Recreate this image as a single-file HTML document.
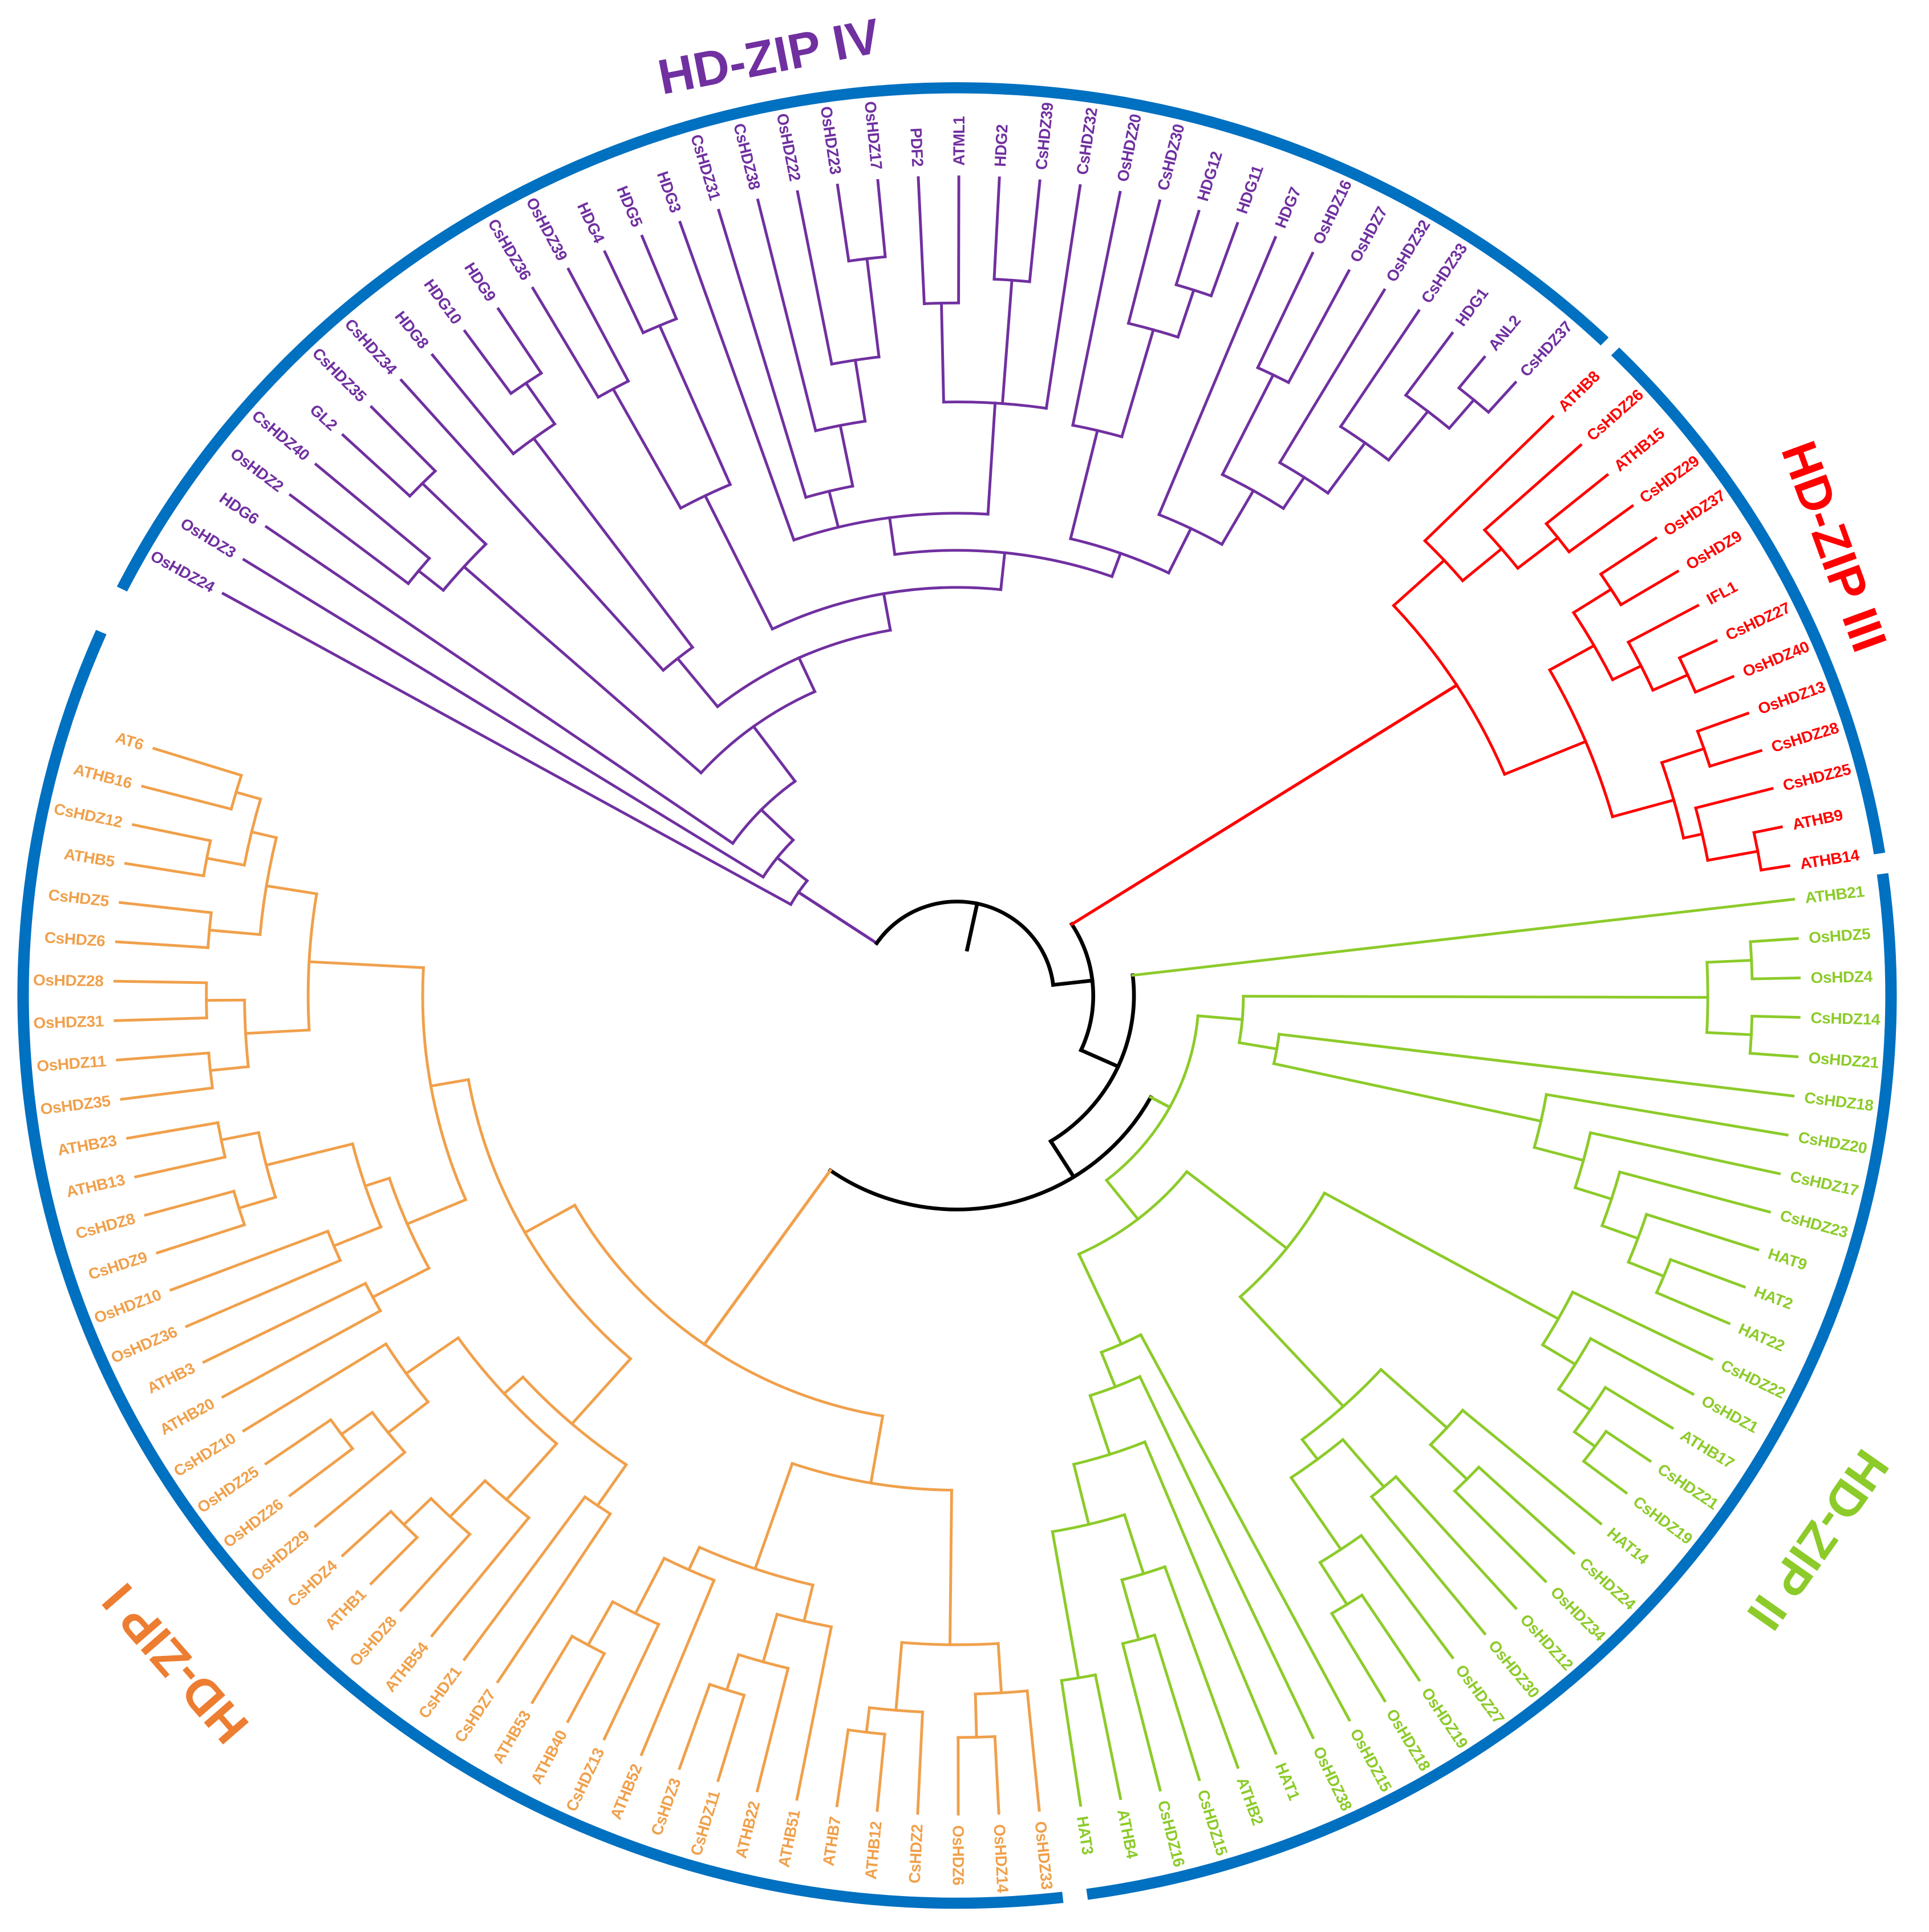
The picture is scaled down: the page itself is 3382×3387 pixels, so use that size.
<!DOCTYPE html>
<html><head><meta charset="utf-8"><style>
html,body{margin:0;padding:0;background:#fff;}
svg{display:block;}
text{font-family:"Liberation Sans",Arial,sans-serif;font-weight:bold;}
.lb text{font-size:12.6px;dominant-baseline:central;letter-spacing:-0.2px;}
.p{fill:#7030A0}.r{fill:#FF0000}.g{fill:#8CCB2A}.o{fill:#F0A04B}
</style></head><body>
<svg id="s" width="3382" height="3387" viewBox="0 0 1560 1562.3" preserveAspectRatio="none" xmlns="http://www.w3.org/2000/svg">
<rect width="1560" height="1563" fill="#fff"/>
<g id="T" transform="translate(774,805) scale(1.029,1)">
<g id="ring" fill="none" stroke="#0070C0" stroke-width="9"></g>
<g id="br" fill="none" stroke-linecap="square"></g>
<g class="lb" id="L">
<text class="p">OsHDZ24</text><text class="p">OsHDZ3</text><text class="p">HDG6</text><text class="p">OsHDZ2</text><text class="p">CsHDZ40</text><text class="p">GL2</text><text class="p">CsHDZ35</text><text class="p">CsHDZ34</text><text class="p">HDG8</text><text class="p">HDG10</text><text class="p">HDG9</text><text class="p">CsHDZ36</text><text class="p">OsHDZ39</text><text class="p">HDG4</text><text class="p">HDG5</text><text class="p">HDG3</text><text class="p">CsHDZ31</text><text class="p">CsHDZ38</text><text class="p">OsHDZ22</text><text class="p">OsHDZ23</text><text class="p">OsHDZ17</text><text class="p">PDF2</text><text class="p">ATML1</text><text class="p">HDG2</text><text class="p">CsHDZ39</text><text class="p">CsHDZ32</text><text class="p">OsHDZ20</text><text class="p">CsHDZ30</text><text class="p">HDG12</text><text class="p">HDG11</text><text class="p">HDG7</text><text class="p">OsHDZ16</text><text class="p">OsHDZ7</text><text class="p">OsHDZ32</text><text class="p">CsHDZ33</text><text class="p">HDG1</text><text class="p">ANL2</text><text class="p">CsHDZ37</text>
<text class="r">ATHB8</text><text class="r">CsHDZ26</text><text class="r">ATHB15</text><text class="r">CsHDZ29</text><text class="r">OsHDZ37</text><text class="r">OsHDZ9</text><text class="r">IFL1</text><text class="r">CsHDZ27</text><text class="r">OsHDZ40</text><text class="r">OsHDZ13</text><text class="r">CsHDZ28</text><text class="r">CsHDZ25</text><text class="r">ATHB9</text><text class="r">ATHB14</text>
<text class="g">ATHB21</text><text class="g">OsHDZ5</text><text class="g">OsHDZ4</text><text class="g">CsHDZ14</text><text class="g">OsHDZ21</text><text class="g">CsHDZ18</text><text class="g">CsHDZ20</text><text class="g">CsHDZ17</text><text class="g">CsHDZ23</text><text class="g">HAT9</text><text class="g">HAT2</text><text class="g">HAT22</text><text class="g">CsHDZ22</text><text class="g">OsHDZ1</text><text class="g">ATHB17</text><text class="g">CsHDZ21</text><text class="g">CsHDZ19</text><text class="g">HAT14</text><text class="g">CsHDZ24</text><text class="g">OsHDZ34</text><text class="g">OsHDZ12</text><text class="g">OsHDZ30</text><text class="g">OsHDZ27</text><text class="g">OsHDZ19</text><text class="g">OsHDZ18</text><text class="g">OsHDZ15</text><text class="g">OsHDZ38</text><text class="g">HAT1</text><text class="g">ATHB2</text><text class="g">CsHDZ15</text><text class="g">CsHDZ16</text><text class="g">ATHB4</text><text class="g">HAT3</text>
<text class="o">OsHDZ33</text><text class="o">OsHDZ14</text><text class="o">OsHDZ6</text><text class="o">CsHDZ2</text><text class="o">ATHB12</text><text class="o">ATHB7</text><text class="o">ATHB51</text><text class="o">ATHB22</text><text class="o">CsHDZ11</text><text class="o">CsHDZ3</text><text class="o">ATHB52</text><text class="o">CsHDZ13</text><text class="o">ATHB40</text><text class="o">ATHB53</text><text class="o">CsHDZ7</text><text class="o">CsHDZ1</text><text class="o">ATHB54</text><text class="o">OsHDZ8</text><text class="o">ATHB1</text><text class="o">CsHDZ4</text><text class="o">OsHDZ29</text><text class="o">OsHDZ26</text><text class="o">OsHDZ25</text><text class="o">CsHDZ10</text><text class="o">ATHB20</text><text class="o">ATHB3</text><text class="o">OsHDZ36</text><text class="o">OsHDZ10</text><text class="o">CsHDZ9</text><text class="o">CsHDZ8</text><text class="o">ATHB13</text><text class="o">ATHB23</text><text class="o">OsHDZ35</text><text class="o">OsHDZ11</text><text class="o">OsHDZ31</text><text class="o">OsHDZ28</text><text class="o">CsHDZ6</text><text class="o">CsHDZ5</text><text class="o">ATHB5</text><text class="o">CsHDZ12</text><text class="o">ATHB16</text><text class="o">AT6</text>
</g>
</g>
<text x="622" y="46" font-size="40" fill="#7030A0" text-anchor="middle" dominant-baseline="central" transform="rotate(-11 622 46)">HD-ZIP IV</text>
<text x="1483" y="442" font-size="40" fill="#FF0000" text-anchor="middle" dominant-baseline="central" transform="rotate(70 1483 442)">HD-ZIP III</text>
<text x="1470" y="1245" font-size="40" fill="#8CCB2A" text-anchor="middle" dominant-baseline="central" transform="rotate(125 1470 1245)">HD-ZIP II</text>
<text x="142" y="1345" font-size="40" fill="#ED7D31" text-anchor="middle" dominant-baseline="central" transform="rotate(-131 142 1345)">HD-ZIP I</text>
</svg>
<script>
(function(){
var NS="http://www.w3.org/2000/svg";
var br=document.getElementById('br'),ring=document.getElementById('ring');
var TIP=662,LR=671,STEP=2.76;
function P(a,r){var t=a*Math.PI/180;return [r*Math.cos(t),r*Math.sin(t)];}
function add(g,d,col,w){var p=document.createElementNS(NS,'path');p.setAttribute('d',d);p.setAttribute('stroke',col);p.setAttribute('stroke-width',w);g.appendChild(p);}
function arc(g,r,a1,a2,col,w){while(a2<a1)a2+=360;var s=P(a1,r),e=P(a2,r);var lg=(a2-a1)>180?1:0;
 add(g,'M'+s[0].toFixed(2)+' '+s[1].toFixed(2)+' A'+r+' '+r+' 0 '+lg+' 1 '+e[0].toFixed(2)+' '+e[1].toFixed(2),col,w);}
function rad(g,a,r1,r2,col,w){var s=P(a,r1),e=P(a,r2);add(g,'M'+s[0].toFixed(2)+' '+s[1].toFixed(2)+' L'+e[0].toFixed(2)+' '+e[1].toFixed(2),col,w);}
arc(ring,734,206.6,313.9,'#0070C0',9);
arc(ring,734,314.8,351,'#0070C0',9);
arc(ring,734,352.3,442,'#0070C0',9);
arc(ring,734,83.5,203.6,'#0070C0',9);
var groups=[['p',209.4,'#7030A0'],['r',315,'#FF0000'],['g',353.25,'#8CCB2A'],['o',84.4,'#F0A04B']];
var ang={};
groups.forEach(function(G){var els=document.querySelectorAll('#L text.'+G[0]);ang[G[0]]=[];
 for(var i=0;i<els.length;i++){var a=G[1]+i*STEP;ang[G[0]].push(a);var n=((a%360)+360)%360;
  var el=els[i];
  if(n>90&&n<270){el.setAttribute('transform','rotate('+a+') translate('+LR+',0) rotate(180)');el.setAttribute('text-anchor','end');}
  else{el.setAttribute('transform','rotate('+a+') translate('+LR+',0)');el.setAttribute('text-anchor','start');}
 }});
function draw(node,A,col){
 if(typeof node==='number')return {a:A[node],r:TIP};
 var r=node[0],res=[];for(var i=1;i<node.length;i++)res.push(draw(node[i],A,col));
 var mn=1e9,mx=-1e9;res.forEach(function(c){mn=Math.min(mn,c.a);mx=Math.max(mx,c.a);rad(br,c.a,r,c.r,col,2.2);});
 arc(br,r,mn,mx,col,2.2);return {a:(mn+mx)/2,r:r};
}
var Pt=[150,0,[180,1,[215,2,[270,
 [520,[545,3,4],[590,5,6]],
 [300,
  [350,7,[560,8,[600,9,10]]],
  [330,
   [450,[560,11,12],[590,13,14]],
   [360,
    [390,15,[420,16,[470,17,[520,18,[600,19,20]]]],[480,[560,21,22],[580,23,24],25]],
    [380,[470,26,[560,27,[600,28,29]]],[420,30,[470,[560,31,32],[500,33,[550,34,[600,35,[630,36,37]]]]]]]
   ]
  ]
 ]
]]]];
var Rt=[466,[520,0,[560,1,[600,2,3]]],[535,[575,[610,4,5],[600,6,[630,7,8]]],[585,[620,9,10],[600,11,[640,12,13]]]]];
var Gt=[190,[225,[590,[625,1,2],[625,3,4]],[255,5,[470,6,[510,7,[540,8,[570,9,[600,10,11]]]]]]],
 [230,[330,[540,12,[570,13,[600,14,[620,15,16]]]],[450,[520,17,[560,18,19]],[470,[520,20,21],[540,22,[580,23,24]]]]],
  [310,25,[340,26,[390,27,[440,[490,28,[540,29,30]],[560,31,32]]]]]]];
var Ot=[345,
 [400,[490,[520,6,[560,7,[590,8,9]]],[510,10,[560,11,[600,12,13]]]],[525,[565,0,[600,1,2]],[580,3,[600,4,5]]]],
 [390,
  [460,[500,14,15],[480,[540,16,[580,17,[610,18,19]]],[530,[570,20,[600,21,22]],23]]],
  [420,[470,[520,24,25],[490,[530,26,27],[560,[590,28,29],[590,30,31]]]],
   [510,[560,[590,32,33],[590,34,35]],[550,[590,36,37],[570,[600,38,39],[590,40,41]]]]]
 ]
];
var pr=draw(Pt,ang.p,'#7030A0');
var rr=draw(Rt,ang.r,'#FF0000');
var gr=draw(Gt,ang.g,'#8CCB2A');
var orr=draw(Ot,ang.o,'#F0A04B');
var K='#000';
rad(br,pr.a,76,pr.r,'#7030A0',2.4);
arc(br,76,pr.a,353.5,K,3);
rad(br,282,38,76,K,3);
rad(br,353.5,76,107,K,3);
arc(br,107,rr.a,24.4,K,3);
rad(br,rr.a,107,rr.r,'#FF0000',2.4);
rad(br,24.4,107,139,K,3);
arc(br,139,ang.g[0],58,K,3);
rad(br,ang.g[0],139,TIP,'#8CCB2A',2.2);
rad(br,58,139,173,K,3);
var ga=gr.a;while(ga>180)ga-=360;
arc(br,173,ga,orr.a,K,3);
rad(br,ga,173,gr.r,'#8CCB2A',2.4);
rad(br,orr.a,173,orr.r,'#F0A04B',2.4);
})();
</script>
</body></html>
